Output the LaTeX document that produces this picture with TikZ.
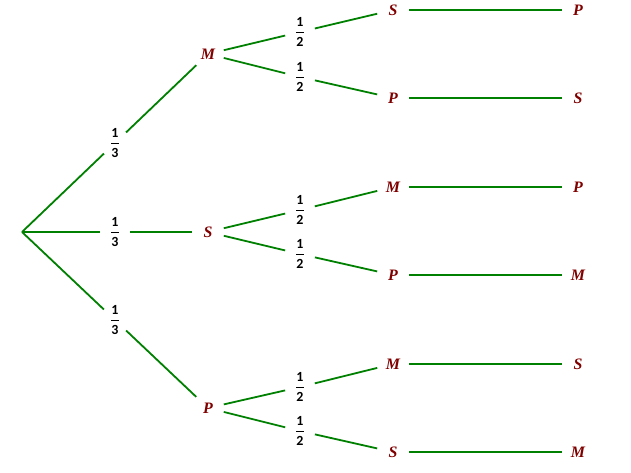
\documentclass[tikz,border=0pt]{standalone}
\usepackage{amsmath}
\usepackage{fontspec}
\setmainfont{Liberation Serif}
\newfontfamily\fracfont{Carlito}
\definecolor{branchgreen}{RGB}{0,128,0}
\definecolor{letterred}{RGB}{128,0,0}
\newcommand{\pfrac}[2]{$\genfrac{}{}{0.8pt}{0}{\text{#1}}{\text{#2}}$}

\begin{document}
\begin{tikzpicture}[x=1bp,y=-1bp,
	letter/.style={circle,minimum size=32bp,inner sep=0pt,text=letterred,
		font=\fontsize{16}{16}\selectfont\bfseries\itshape},
	prob/.style={circle,minimum size=29bp,inner sep=0pt,
		font=\fontsize{14}{14}\selectfont\fracfont\bfseries},
	branch/.style={draw=branchgreen,line width=1.8bp}]
	\useasboundingbox (0,0) rectangle (631,473);
	\coordinate (root) at (22,232);
	% first draw
	\node[letter] (m) at (208,54) {M};
	\node[letter] (s) at (208,232) {S};
	\node[letter] (p) at (208,408) {P};
	\node[prob] (qm) at (115,143) {\pfrac{1}{3}};
	\node[prob] (qs) at (115,232) {\pfrac{1}{3}};
	\node[prob] (qp) at (115,320) {\pfrac{1}{3}};
	% second draw
	\node[letter] (ms) at (393,10) {S};
	\node[letter] (mp) at (393,98) {P};
	\node[letter] (sm) at (393,187) {M};
	\node[letter] (sp) at (393,275) {P};
	\node[letter] (pm) at (393,364) {M};
	\node[letter] (ps) at (393,452) {S};
	\node[prob] (hms) at (300,32) {\pfrac{1}{2}};
	\node[prob] (hmp) at (300,77) {\pfrac{1}{2}};
	\node[prob] (hsm) at (300,210) {\pfrac{1}{2}};
	\node[prob] (hsp) at (300,254) {\pfrac{1}{2}};
	\node[prob] (hpm) at (300,387) {\pfrac{1}{2}};
	\node[prob] (hps) at (300,431) {\pfrac{1}{2}};
	% last draw
	\node[letter] (msp) at (578,10) {P};
	\node[letter] (mps) at (578,98) {S};
	\node[letter] (smp) at (578,187) {P};
	\node[letter] (spm) at (578,275) {M};
	\node[letter] (pms) at (578,364) {S};
	\node[letter] (psm) at (578,452) {M};

	\draw[branch] (root) -- (qm) -- (m);
	\draw[branch] (root) -- (qs) -- (s);
	\draw[branch] (root) -- (qp) -- (p);
	\draw[branch] (m) -- (hms) -- (ms);
	\draw[branch] (m) -- (hmp) -- (mp);
	\draw[branch] (s) -- (hsm) -- (sm);
	\draw[branch] (s) -- (hsp) -- (sp);
	\draw[branch] (p) -- (hpm) -- (pm);
	\draw[branch] (p) -- (hps) -- (ps);
	\draw[branch] (ms) -- (msp);
	\draw[branch] (mp) -- (mps);
	\draw[branch] (sm) -- (smp);
	\draw[branch] (sp) -- (spm);
	\draw[branch] (pm) -- (pms);
	\draw[branch] (ps) -- (psm);
\end{tikzpicture}
\end{document}
